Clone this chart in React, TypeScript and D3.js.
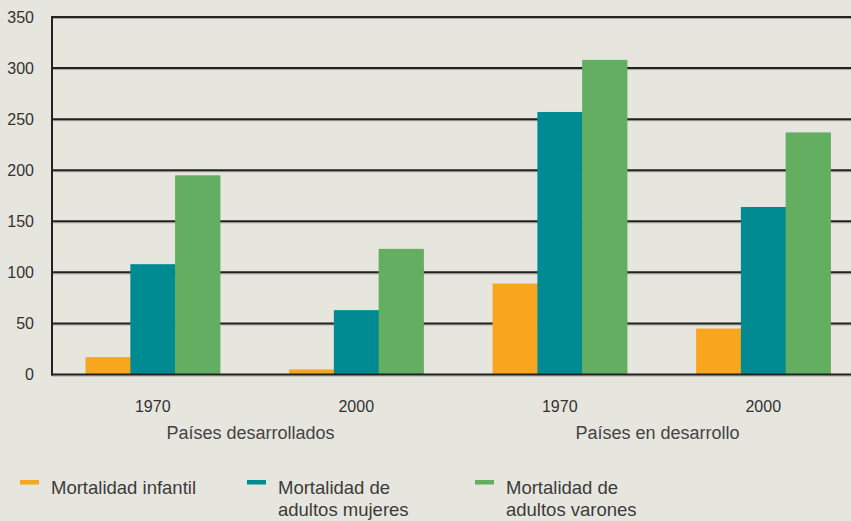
import React from "react";
import * as d3 from "d3";

const groups = ["dev1970", "dev2000", "ing1970", "ing2000"];
const groupLabels = ["1970", "2000", "1970", "2000"];
const regions = ["Países desarrollados", "Países en desarrollo"];
const seriesKeys = ["infantil", "mujeres", "varones"];
const seriesColors = ["#f7a61e", "#008b93", "#63ae60"];
const legendLines = [
  ["Mortalidad infantil"],
  ["Mortalidad de", "adultos mujeres"],
  ["Mortalidad de", "adultos varones"],
];
const infantil = [17, 5, 89, 45];
const mujeres = [108, 63, 257, 164];
const varones = [195, 123, 308, 237];
const yTicks = [0, 50, 100, 150, 200, 250, 300, 350];

const W = 851;
const H = 521;
const FONT = "'Liberation Sans', Arial, Helvetica, sans-serif";

export default function App() {
  const values = [infantil, mujeres, varones];
  const x = d3.scaleBand<string>().domain(groups).range([52, 864]).paddingInner(0.34).paddingOuter(0.165);
  const xs = d3.scaleBand<string>().domain(seriesKeys).range([0, x.bandwidth()]).padding(0);
  const y = d3.scaleLinear().domain([0, 350]).range([374.5, 17]);
  const legendX = d3.scaleOrdinal<string, number>().domain(seriesKeys).range([20, 247, 475]);

  return (
    <svg width={W} height={H} style={{ position: "absolute", left: 0, top: 0, background: "#e6e5de" }} fontFamily={FONT}>
      <rect x={0} y={0} width={W} height={H} fill="#e6e5de" />
      {yTicks.map((t) => (
        <g key={t}>
          {t > 0 && (
            <>
              <line x1={52} x2={W} y1={y(t) + 1.5} y2={y(t) + 1.5} stroke="#a9a8a3" strokeWidth={1} />
              <line x1={52} x2={W} y1={y(t)} y2={y(t)} stroke="#222" strokeWidth={2} />
            </>
          )}
          <text x={34} y={y(t)} dy="0.36em" textAnchor="end" fontSize={16} fill="#333">
            {t}
          </text>
        </g>
      ))}
      {groups.map((g, gi) => (
        <g key={g} transform={`translate(${x(g)},0)`}>
          {seriesKeys.map((s, si) => (
            <rect
              key={s}
              x={xs(s)}
              width={xs.bandwidth() + 0.5}
              y={y(values[si][gi])}
              height={y(0) - y(values[si][gi])}
              fill={seriesColors[si]}
            />
          ))}
          <text x={x.bandwidth() / 2} y={412} textAnchor="middle" fontSize={16} fill="#333">
            {groupLabels[gi]}
          </text>
        </g>
      ))}
      {/* baseline and left axis */}
      <line x1={52} x2={W} y1={y(0) + 1.5} y2={y(0) + 1.5} stroke="#a9a8a3" strokeWidth={1} />
      <line x1={51} x2={W} y1={y(0)} y2={y(0)} stroke="#222" strokeWidth={2} />
      <line x1={52} x2={52} y1={y(350) - 1} y2={y(0) + 1} stroke="#222" strokeWidth={2} />
      {regions.map((r, ri) => {
        const a = x(groups[ri * 2])!;
        const b = x(groups[ri * 2 + 1])! + x.bandwidth();
        return (
          <text key={r} x={(a + b) / 2 - 4} y={439} textAnchor="middle" fontSize={18} fill="#444">
            {r}
          </text>
        );
      })}
      {seriesKeys.map((s, si) => (
        <g key={s} transform={`translate(${legendX(s)},0)`}>
          <rect x={0} y={480} width={19} height={4.5} fill={seriesColors[si]} />
          {legendLines[si].map((line, li) => (
            <text key={li} x={31} y={494 + li * 22} fontSize={18.5} fill="#3c3c3c">
              {line}
            </text>
          ))}
        </g>
      ))}
    </svg>
  );
}
